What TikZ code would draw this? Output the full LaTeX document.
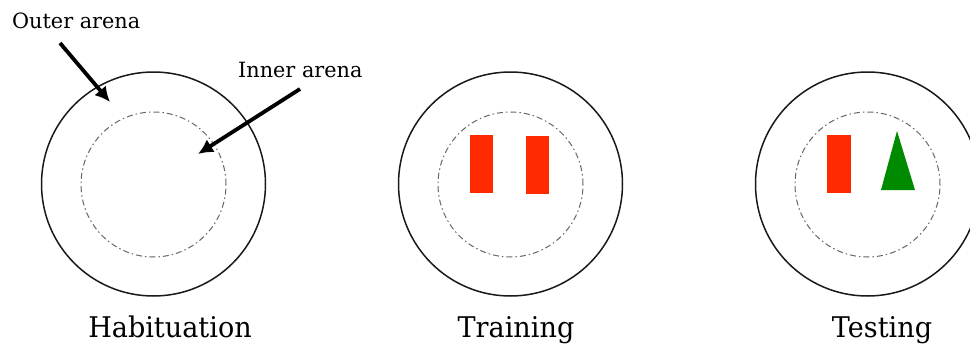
\documentclass[tikz,border=0pt]{standalone}
\usepackage{fontspec}
\setmainfont{DejaVu Serif}
\usetikzlibrary{arrows.meta}
\definecolor{objred}{HTML}{FF2A00}
\definecolor{objgreen}{HTML}{008A00}
\begin{document}
\begin{tikzpicture}[x=1pt,y=-1pt,
  outer/.style={draw=black!90,line width=1.5pt},
  inner/.style={draw=black!60,line width=1pt,dash pattern=on 6pt off 3pt on 1.5pt off 3pt},
  redobj/.style={fill=objred,draw=none},
  greenobj/.style={fill=objgreen,draw=none},
  phase/.style={anchor=base,font=\fontsize{28.5}{28.5}\selectfont,inner sep=0pt,xscale=0.95,text=black},
  lbl/.style={anchor=base west,font=\fontsize{21}{21}\selectfont,inner sep=0pt,xscale=0.99,text=black},
  pointer/.style={line width=3.8pt,-{Latex[length=15pt,width=15pt]}}]
\useasboundingbox (0,0) rectangle (970,346);
% arenas
\foreach \n/\cx in {a/153.5,b/510.5,c/867.5}{
  \node[outer,circle,minimum size=224pt,inner sep=0pt] (o\n) at (\cx,184) {};
  \node[inner,circle,minimum size=145pt,inner sep=0pt] (i\n) at (\cx,184.5) {};
}
% objects
\node[redobj,minimum width=23pt,minimum height=58pt,inner sep=0pt] (r1) at (481.5,164) {};
\node[redobj,minimum width=23pt,minimum height=58pt,inner sep=0pt] (r2) at (537.5,165) {};
\node[redobj,minimum width=24pt,minimum height=58pt,inner sep=0pt] (r3) at (839,164) {};
\coordinate (tA) at (897,131);
\coordinate (tB) at (881,190);
\coordinate (tC) at (915,190);
\fill[objgreen] (tA) -- (tC) -- (tB) -- cycle;
% labels
\node[lbl] (outerlbl) at (12,28) {Outer arena};
\node[lbl] (innerlbl) at (238,77) {Inner arena};
\coordinate (p1s) at (60,43);
\coordinate (p1e) at (110,102);
\coordinate (p2s) at (300,89);
\coordinate (p2e) at (198,154);
\draw[pointer] (p1s) -- (p1e);
\draw[pointer] (p2s) -- (p2e);
\node[phase] (hab) at (170,337) {Habituation};
\node[phase] (tra) at (516,337) {Training};
\node[phase] (tes) at (882,337) {Testing};
\end{tikzpicture}
\end{document}
